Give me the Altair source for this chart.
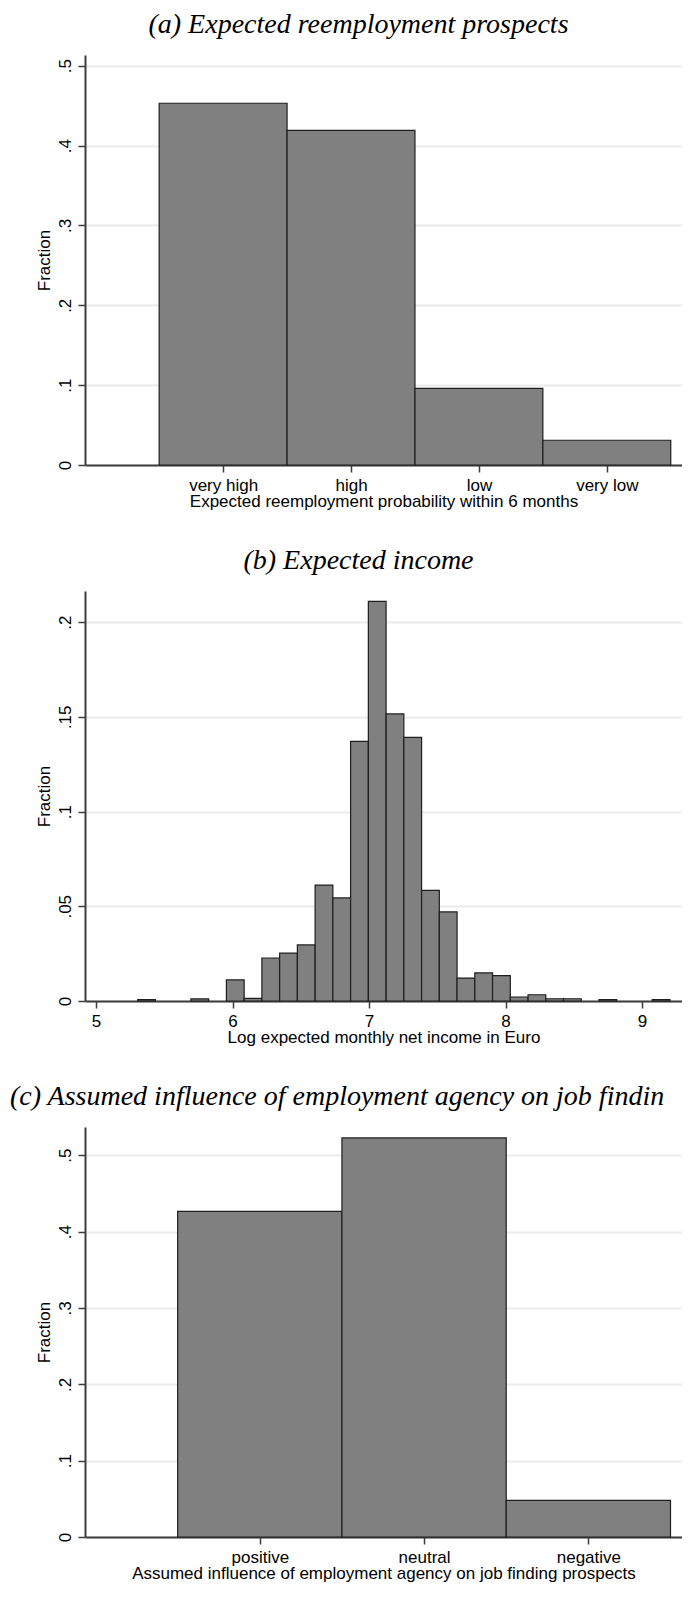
import altair as alt
import pandas as pd

# ---------------- data ----------------
cat_a = ["very high", "high", "low", "very low"]
frac_a = [0.453, 0.419, 0.096, 0.031]

bin_left_b = [5.305, 5.695, 5.955, 6.085, 6.215, 6.345, 6.475, 6.605, 6.735, 6.865,
              6.995, 7.125, 7.255, 7.385, 7.515, 7.645, 7.775, 7.905, 8.035, 8.165,
              8.295, 8.425, 8.685, 9.075]
frac_b = [0.0007, 0.0011, 0.0111, 0.0014, 0.0227, 0.0253, 0.0296, 0.0612, 0.0544, 0.1370,
          0.2109, 0.1515, 0.1391, 0.0584, 0.0470, 0.0121, 0.0148, 0.0134, 0.0021, 0.0033,
          0.0012, 0.0012, 0.0007, 0.0007]
bin_width_b = 0.13

cat_c = ["positive", "neutral", "negative"]
frac_c = [0.4265, 0.5227, 0.048]

ticks_a = [0, 0.1, 0.2, 0.3, 0.4, 0.5]
ticks_b = [0, 0.05, 0.1, 0.15, 0.2]
ticks_c = [0, 0.1, 0.2, 0.3, 0.4, 0.5]
xticks_b = [5, 6, 7, 8, 9]

titles = ["(a) Expected reemployment prospects",
          "(b) Expected income",
          "(c) Assumed influence of employment agency on job findin"]
xtitles = ["Expected reemployment probability within 6 months",
           "Log expected monthly net income in Euro",
           "Assumed influence of employment agency on job finding prospects"]

# ---------------- style ----------------
W = 597
H = 410
FILL = "#808080"
EDGE = "#1e1e1e"
AX = "#3c3c3c"
SANS = "Liberation Sans"
FS = 17
LPAD = 5
TPAD = 0

ylabel_expr = "datum.value == 0 ? '0' : substring(format(datum.value, '~g'), 1)"


def y_axis(vals):
    return alt.Axis(values=vals, labelExpr=ylabel_expr, title="Fraction",
                    grid=True, gridColor="#ebebeb", gridWidth=2,
                    labelAngle=270, labelAlign="center", labelBaseline="bottom",
                    labelPadding=4, tickSize=7, titlePadding=3)


def x_axis_cat(cats, title):
    expr = "[" + ",".join("'" + c + "'" for c in cats) + "][datum.value - 1]"
    return alt.Axis(values=list(range(1, len(cats) + 1)), labelExpr=expr, title=title,
                    grid=False, tickSize=7, labelPadding=LPAD, titlePadding=TPAD)


def cat_panel(cats, fr, yticks, ymax, xmin, xmax, title, xtitle, tparams):
    df = pd.DataFrame({"pos": list(range(1, len(cats) + 1)), "frac": fr})
    return (
        alt.Chart(df, title=alt.Title(title, **tparams))
        .transform_calculate(x0="datum.pos - 0.5", x1="datum.pos + 0.5")
        .mark_rect(fill=FILL, stroke=EDGE, strokeWidth=1.2, opacity=1)
        .encode(
            x=alt.X("x0:Q", scale=alt.Scale(domain=[xmin, xmax], nice=False, zero=False),
                    axis=x_axis_cat(cats, xtitle)),
            x2="x1:Q",
            y=alt.Y("frac:Q", scale=alt.Scale(domain=[0, ymax], nice=False),
                    axis=y_axis(yticks)),
            y2=alt.datum(0),
        )
        .properties(width=W, height=H)
    )


TFS = 28
TOFF = -12
tmid = dict(anchor="middle", frame="bounds", offset=TOFF, baseline="bottom")

panel_a = cat_panel(cat_a, frac_a, ticks_a, 0.5134, -0.08, 4.588,
                    titles[0], xtitles[0], tmid)

df_b = pd.DataFrame({"left": bin_left_b, "frac": frac_b})
panel_b = (
    alt.Chart(df_b, title=alt.Title(titles[1], **tmid))
    .transform_calculate(right="datum.left + %f" % bin_width_b)
    .mark_rect(fill=FILL, stroke=EDGE, strokeWidth=1.2, opacity=1)
    .encode(
        x=alt.X("left:Q", scale=alt.Scale(domain=[4.919, 9.293], nice=False, zero=False),
                axis=alt.Axis(values=xticks_b, format="d", title=xtitles[1], grid=False,
                              tickSize=7, labelPadding=LPAD, titlePadding=TPAD)),
        x2="right:Q",
        y=alt.Y("frac:Q", scale=alt.Scale(domain=[0, 0.2164], nice=False),
                axis=y_axis(ticks_b)),
        y2=alt.datum(0),
    )
    .properties(width=W, height=H)
)

tstart = dict(anchor="start", frame="group", offset=TOFF, baseline="bottom", dx=-75,
              limit=680)
panel_c = cat_panel(cat_c, frac_c, ticks_c, 0.537, -0.064, 3.57,
                    titles[2], xtitles[2], tstart)

chart = (
    alt.vconcat(panel_a, panel_b, panel_c, spacing=126, bounds="flush")
    .properties(padding={"left": 2, "top": 3, "right": 0, "bottom": 4},
                background="white")
    .configure_view(stroke=None)
    .configure_axis(labelFont=SANS, titleFont=SANS, labelFontSize=FS, titleFontSize=FS,
                    labelColor="black", titleColor="black", titleFontWeight="normal",
                    domainColor=AX, domainWidth=2, tickColor=AX, tickWidth=1.5)
    .configure_title(font="Liberation Serif", fontStyle="italic", fontWeight="normal",
                     fontSize=TFS, color="black")
)

chart.save("out.html", embed_options={"renderer": "svg", "actions": False})
